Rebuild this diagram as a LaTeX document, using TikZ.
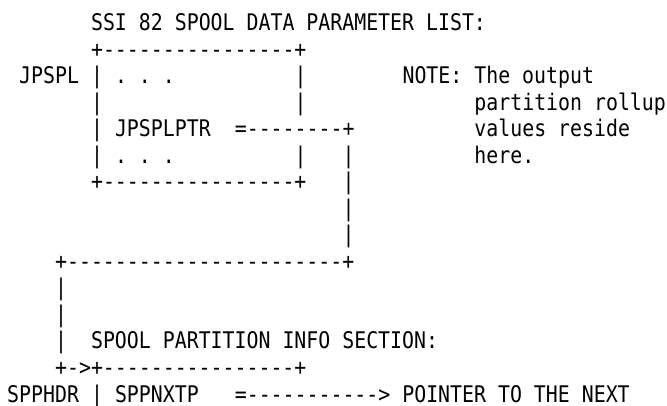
\documentclass[tikz,border=0pt]{standalone}
\usepackage{fontspec}
\setmonofont[FakeStretch=0.868]{DejaVu Sans Mono}
\usepackage{tikz}

\begin{document}
\begin{tikzpicture}[x=11.98pt, y=-26.5pt,
    txt/.style={font=\ttfamily\fontsize{22.9pt}{26.5pt}\selectfont, anchor=base west, inner sep=0pt}]

    \useasboundingbox (-7pt,31pt) rectangle (660pt,-375pt);

                \node[txt] (title) at (7,0) {SSI 82 SPOOL DATA PARAMETER LIST:};
                \node[txt] (jtop) at (7,1) {+----------------+};

                \node[txt] (jpspl) at (1,2) {JPSPL};
                \node[txt] (jl1) at (7,2) {|};
                \node[txt] (jdots1) at (9,2) {. . .};
                \node[txt] (jr1) at (24,2) {|};
                \node[txt] (note1) at (33,2) {NOTE: The output};

                \node[txt] (jl2) at (7,3) {|};
                \node[txt] (jr2) at (24,3) {|};
                \node[txt] (note2) at (39,3) {partition rollup};

                \node[txt] (jl3) at (7,4) {|};
                \node[txt] (jptr) at (9,4) {JPSPLPTR};
                \node[txt] (jarrow) at (19,4) {=--------+};
                \node[txt] (note3) at (39,4) {values reside};

                \node[txt] (jl4) at (7,5) {|};
                \node[txt] (jdots2) at (9,5) {. . .};
                \node[txt] (jr4) at (24,5) {|};
                \node[txt] (v1) at (28,5) {|};
                \node[txt] (note4) at (39,5) {here.};

                \node[txt] (jbot) at (7,6) {+----------------+};
                \node[txt] (v2) at (28,6) {|};
                \node[txt] (v3) at (28,7) {|};
                \node[txt] (v4) at (28,8) {|};

                \node[txt] (link) at (4,9) {+-----------------------+};
                \node[txt] (u1) at (4,10) {|};
                \node[txt] (u2) at (4,11) {|};
                \node[txt] (u3) at (4,12) {|};
                \node[txt] (sect) at (7,12) {SPOOL PARTITION INFO SECTION:};

                \node[txt] (stop) at (4,13) {+->+----------------+};
                \node[txt] (spphdr) at (0,14) {SPPHDR};
                \node[txt] (sl1) at (7,14) {|};
                \node[txt] (sptr) at (9,14) {SPPNXTP};
                \node[txt] (sarrow) at (19,14) {=-----------> POINTER TO THE NEXT};

            \end{tikzpicture}
\end{document}
